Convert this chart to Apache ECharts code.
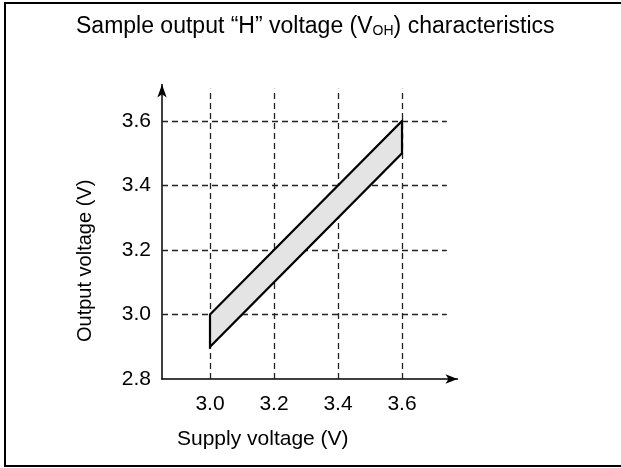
<!DOCTYPE html>
<html>
<head>
<meta charset="utf-8">
<script src="https://cdn.jsdelivr.net/npm/echarts@6/dist/echarts.min.js"></script>
<style>
  html, body { margin: 0; padding: 0; background: #fff; }
  #chart { width: 621px; height: 468px; }
</style>
</head>
<body>
<div id="chart"></div>
<script>
// Supply voltage at the two ends of the VOH band
const supplyVoltage = [3.0, 3.6];
// Upper and lower limits of the output "H" voltage
const vohUpper = [3.0, 3.6];
const vohLower = [2.9, 3.5];
// Tick labels
const xTicks = [3.0, 3.2, 3.4, 3.6];
const yTicks = [2.8, 3.0, 3.2, 3.4, 3.6];

const FONT = 'Liberation Sans, Arial, sans-serif';
const INK = '#000';

// dashed reference grid built from the tick values
const gridTopValue = 3.70;
const gridRightValue = 3.74;
const xMin = 2.85, yMin = 2.8;
const gridLines = [];
xTicks.forEach(v => gridLines.push([{ coord: [v, yMin] }, { coord: [v, gridTopValue] }]));
yTicks.filter(v => v > yMin).forEach(v => gridLines.push([{ coord: [xMin, v] }, { coord: [gridRightValue, v] }]));

const chart = echarts.init(document.getElementById('chart'), null, { renderer: 'canvas' });

chart.setOption({
  animation: false,
  backgroundColor: '#fff',
  title: {
    left: 76,
    top: 15,
    padding: 0,
    text: 'Sample output \u201CH\u201D voltage (V{sub|OH}) characteristics',
    textStyle: {
      fontFamily: FONT,
      fontSize: 23,
      fontWeight: 'normal',
      color: INK,
      rich: {
        sub: { fontFamily: FONT, fontSize: 14, color: INK, verticalAlign: 'bottom', padding: [6, 0, 0, 0] }
      }
    }
  },
  graphic: [
    {
      type: 'rect',
      shape: { x: 5, y: 3, width: 640, height: 463 },
      style: { fill: 'none', stroke: INK, lineWidth: 2 },
      silent: true
    },
    {
      type: 'text',
      left: 177,
      top: 429,
      style: { text: 'Supply voltage (V)', font: '21px ' + FONT, fill: INK }
    },
    {
      type: 'text',
      x: 75,
      y: 342,
      rotation: Math.PI / 2,
      style: { text: 'Output voltage (V)', font: '20px ' + FONT, fill: INK, align: 'left', verticalAlign: 'top' }
    }
  ],
  grid: { left: 162, right: 163.5, top: 84.5, bottom: 89, containLabel: false },
  xAxis: {
    type: 'value',
    min: xMin,
    max: 3.7734,
    axisLine: { show: true, symbol: ['none', 'arrow'], symbolSize: [7, 12], lineStyle: { color: INK, width: 1.5 } },
    axisTick: { show: false },
    splitLine: { show: false },
    axisLabel: {
      customValues: xTicks,
      formatter: v => v.toFixed(1),
      fontFamily: FONT, fontSize: 21, color: INK, margin: 15
    }
  },
  yAxis: {
    type: 'value',
    min: yMin,
    max: 3.7132,
    axisLine: { show: true, symbol: ['none', 'arrow'], symbolSize: [7, 13], lineStyle: { color: INK, width: 1.5 } },
    axisTick: { show: false },
    splitLine: { show: false },
    axisLabel: {
      customValues: yTicks,
      formatter: v => v.toFixed(1),
      fontFamily: FONT, fontSize: 21, color: INK, margin: 11
    }
  },
  series: [
    {
      type: 'line',
      data: [],
      silent: true,
      markLine: {
        silent: true,
        symbol: ['none', 'none'],
        label: { show: false },
        lineStyle: { color: '#222', width: 1.3, type: [6, 4] },
        data: gridLines
      }
    },
    {
      type: 'custom',
      data: [0],
      z: 5,
      renderItem: function (params, api) {
        const pts = [];
        for (let i = 0; i < supplyVoltage.length; i++) pts.push(api.coord([supplyVoltage[i], vohUpper[i]]));
        for (let i = supplyVoltage.length - 1; i >= 0; i--) pts.push(api.coord([supplyVoltage[i], vohLower[i]]));
        return {
          type: 'polygon',
          shape: { points: pts },
          style: { fill: '#e4e4e4', stroke: INK, lineWidth: 2.2, lineJoin: 'miter' }
        };
      }
    }
  ]
});
</script>
</body>
</html>
